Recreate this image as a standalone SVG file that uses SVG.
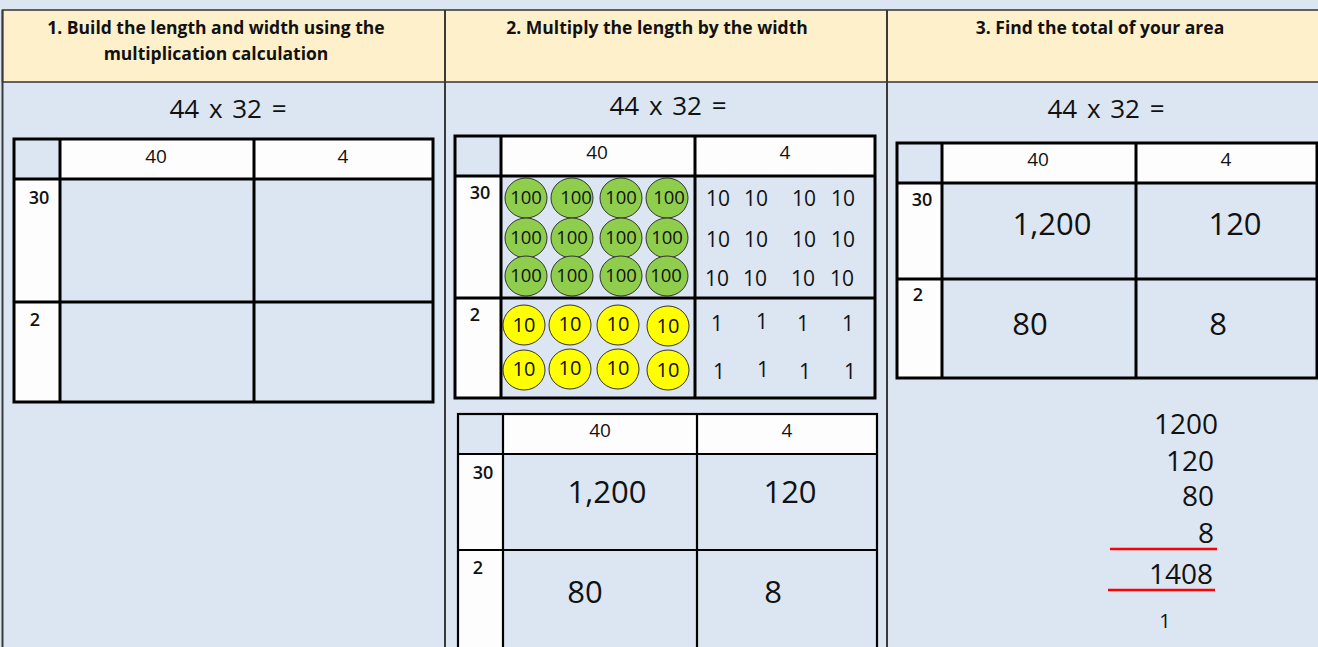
<svg xmlns="http://www.w3.org/2000/svg" width="1318" height="647" viewBox="0 0 1318 647">
<style>
.bg{fill:#dce6f2}
.hdr{fill:#fdf0cb;stroke:#333;stroke-width:1.5}
.div{stroke:#3a3a3a;stroke-width:2;fill:none}
.white{fill:#fdfdfd}
.grid{fill:none;stroke:#000;stroke-width:3}
.grid2{fill:none;stroke:#000;stroke-width:2.2}
.title{font-family:"Open Sans",sans-serif;font-weight:bold;font-size:17.5px;fill:#111;text-anchor:middle}
.eq{font-family:"Open Sans",sans-serif;font-size:26px;fill:#111;text-anchor:middle;word-spacing:3px}
.hd{font-family:"Open Sans",sans-serif;font-size:19px;fill:#111;text-anchor:middle}
.lbl{font-family:"Open Sans",sans-serif;font-size:18px;font-weight:600;fill:#111;text-anchor:middle}
.big{font-family:"Open Sans",sans-serif;font-size:31px;fill:#111;text-anchor:middle}
.c100{font-family:"Open Sans",sans-serif;font-size:18.5px;fill:#111;text-anchor:middle}
.c10{font-family:"Open Sans",sans-serif;font-size:20px;fill:#111;text-anchor:middle}
.t10{font-family:"Open Sans",sans-serif;font-size:21px;fill:#111;text-anchor:middle}
.sum{font-family:"Open Sans",sans-serif;font-size:28px;fill:#111;text-anchor:end}
.green{fill:#8fce4c;stroke:#333;stroke-width:1}
.yellow{fill:#ffff00;stroke:#333;stroke-width:1}
.red{stroke:#ff0000;stroke-width:2.5}
</style>
<rect class="bg" x="0" y="0" width="1318" height="647"/>
<g id="header">
<rect class="hdr" x="2.5" y="10" width="1320" height="72"/>
<text class="title" x="216" y="34">1. Build the length and width using the</text>
<text class="title" x="216" y="60">multiplication calculation</text>
<text class="title" x="657" y="34">2. Multiply the length by the width</text>
<text class="title" x="1100" y="34">3. Find the total of your area</text>
</g>
<g id="dividers">
<line class="div" x1="2.5" y1="10" x2="2.5" y2="647"/>
<line class="div" x1="445" y1="10" x2="445" y2="647"/>
<line class="div" x1="887" y1="10" x2="887" y2="647"/>
</g>
<g id="col1">
<text class="eq" x="228" y="118">44 x 32 =</text>
<rect class="white" x="60" y="139" width="373" height="40"/>
<rect class="white" x="14" y="179" width="46" height="223"/>
<rect class="grid" x="14" y="139" width="419" height="263"/>
<path class="grid" d="M14 179H433M14 302H433M60 139V402M254 139V402"/>
<text class="hd" x="156" y="163">40</text>
<text class="hd" x="343" y="163">4</text>
<text class="lbl" x="39" y="204">30</text>
<text class="lbl" x="35" y="326">2</text>
</g>
<g id="col2">
<text class="eq" x="668" y="115">44 x 32 =</text>
<rect class="white" x="501" y="136" width="374" height="40"/>
<rect class="white" x="455" y="176" width="46" height="222"/>
<g id="hundreds">
<ellipse class="green" cx="526" cy="198" rx="21" ry="20"/><ellipse class="green" cx="572" cy="198" rx="21" ry="20"/><ellipse class="green" cx="621" cy="198" rx="21" ry="20"/><ellipse class="green" cx="667" cy="198" rx="21" ry="20"/>
<ellipse class="green" cx="526" cy="238" rx="21" ry="20"/><ellipse class="green" cx="572" cy="238" rx="21" ry="20"/><ellipse class="green" cx="621" cy="238" rx="21" ry="20"/><ellipse class="green" cx="667" cy="238" rx="21" ry="20"/>
<ellipse class="green" cx="526" cy="276" rx="21" ry="20"/><ellipse class="green" cx="572" cy="276" rx="21" ry="20"/><ellipse class="green" cx="621" cy="276" rx="21" ry="20"/><ellipse class="green" cx="667" cy="276" rx="21" ry="20"/>
<text class="c100" x="526" y="204">100</text><text class="c100" x="576" y="204">100</text><text class="c100" x="621" y="204">100</text><text class="c100" x="669" y="204">100</text>
<text class="c100" x="526" y="244">100</text><text class="c100" x="572" y="244">100</text><text class="c100" x="621" y="244">100</text><text class="c100" x="667" y="244">100</text>
<text class="c100" x="526" y="282">100</text><text class="c100" x="572" y="282">100</text><text class="c100" x="621" y="282">100</text><text class="c100" x="666" y="282">100</text>
</g>
<g id="tens">
<ellipse class="yellow" cx="524" cy="325" rx="21" ry="20"/><ellipse class="yellow" cx="570" cy="325" rx="21" ry="20"/><ellipse class="yellow" cx="618" cy="325" rx="21" ry="20"/><ellipse class="yellow" cx="668" cy="326" rx="21" ry="20"/>
<ellipse class="yellow" cx="524" cy="370" rx="21" ry="20"/><ellipse class="yellow" cx="570" cy="369" rx="21" ry="20"/><ellipse class="yellow" cx="618" cy="369" rx="21" ry="20"/><ellipse class="yellow" cx="668" cy="370" rx="21" ry="20"/>
<text class="c10" x="524" y="332">10</text><text class="c10" x="570" y="331">10</text><text class="c10" x="618" y="331">10</text><text class="c10" x="668" y="333">10</text>
<text class="c10" x="524" y="376">10</text><text class="c10" x="570" y="375">10</text><text class="c10" x="618" y="375">10</text><text class="c10" x="668" y="377">10</text>
</g>
<g id="tensText">
<text class="t10" x="718" y="206">10</text><text class="t10" x="756" y="206">10</text><text class="t10" x="804" y="206">10</text><text class="t10" x="843" y="206">10</text>
<text class="t10" x="718" y="247">10</text><text class="t10" x="756" y="247">10</text><text class="t10" x="804" y="247">10</text><text class="t10" x="843" y="247">10</text>
<text class="t10" x="717" y="286">10</text><text class="t10" x="755" y="286">10</text><text class="t10" x="803" y="286">10</text><text class="t10" x="842" y="286">10</text>
</g>
<g id="ones">
<text class="t10" x="717" y="331">1</text><text class="t10" x="762" y="329">1</text><text class="t10" x="803" y="331">1</text><text class="t10" x="848" y="331">1</text>
<text class="t10" x="719" y="379">1</text><text class="t10" x="763" y="377">1</text><text class="t10" x="805" y="379">1</text><text class="t10" x="850" y="379">1</text>
</g>
<rect class="grid" x="455" y="136" width="420" height="262"/>
<path class="grid" d="M455 176H875M455 298H875M501 136V398M695 136V398"/>
<text class="hd" x="597" y="159">40</text>
<text class="hd" x="785" y="159">4</text>
<text class="lbl" x="480" y="199">30</text>
<text class="lbl" x="475" y="321">2</text>
</g>
<g id="col2b">
<rect class="white" x="503" y="414" width="374" height="40"/>
<rect class="white" x="458" y="454" width="45" height="210"/>
<rect class="grid2" x="458" y="414" width="419" height="250"/>
<path class="grid2" d="M458 454H877M458 550H877M503 414V664M697 414V664"/>
<text class="hd" x="600" y="437">40</text>
<text class="hd" x="787" y="437">4</text>
<text class="lbl" x="483" y="479">30</text>
<text class="lbl" x="478" y="574">2</text>
<text class="big" x="607" y="503">1,200</text>
<text class="big" x="790" y="503">120</text>
<text class="big" x="585" y="603">80</text>
<text class="big" x="773" y="603">8</text>
</g>
<g id="col3">
<text class="eq" x="1106" y="118">44 x 32 =</text>
<rect class="white" x="942" y="143" width="375" height="40"/>
<rect class="white" x="897" y="183" width="45" height="195"/>
<rect class="grid" x="897" y="143" width="420" height="235"/>
<path class="grid" d="M897 183H1317M897 279H1317M942 143V378M1136 143V378"/>
<text class="hd" x="1038" y="166">40</text>
<text class="hd" x="1226" y="166">4</text>
<text class="lbl" x="922" y="206">30</text>
<text class="lbl" x="918" y="301">2</text>
<text class="big" x="1052" y="235">1,200</text>
<text class="big" x="1235" y="235">120</text>
<text class="big" x="1030" y="335">80</text>
<text class="big" x="1218" y="335">8</text>
</g>
<g id="sum">
<text class="sum" x="1218" y="434">1200</text>
<text class="sum" x="1214" y="471">120</text>
<text class="sum" x="1214" y="506">80</text>
<text class="sum" x="1214" y="543">8</text>
<line class="red" x1="1110" y1="549" x2="1217" y2="549"/>
<text class="sum" x="1213" y="584">1408</text>
<line class="red" x1="1108" y1="590" x2="1215" y2="590"/>
<text class="lbl" x="1165" y="628" style="font-size:20px;font-weight:normal">1</text>
</g>
</svg>
